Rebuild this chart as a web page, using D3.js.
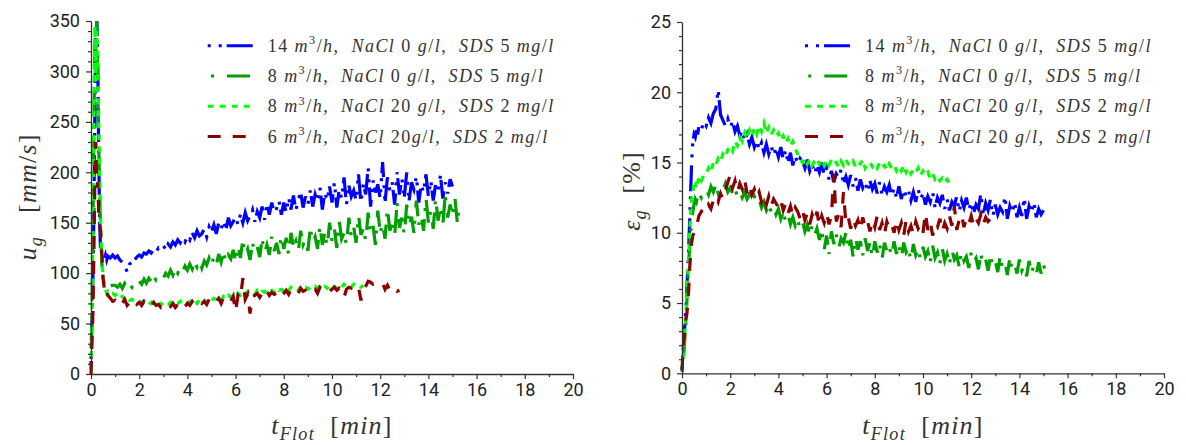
<!DOCTYPE html>
<html>
<head>
<meta charset="utf-8">
<script src="https://cdn.jsdelivr.net/npm/d3@7"></script>
<style>
  html, body { margin: 0; padding: 0; background: #fff; }
  svg { display: block; }
</style>
</head>
<body>
<svg id="chart" width="1186" height="445"></svg>
<script>
// Sampling times of the flotation runs [min]
const time = [0,0.04,0.08,0.12,0.16,0.2,0.24,0.28,0.32,0.36,0.4,0.45,0.5,0.55,0.6,0.65,0.7,0.8,0.9,
  1,1.1,1.2,1.3,1.4,1.5,1.6,1.7,1.8,1.9,
  2,2.1,2.2,2.3,2.4,2.5,2.6,2.7,2.8,2.9,
  3,3.1,3.2,3.3,3.4,3.5,3.6,3.7,3.8,3.9,
  4,4.1,4.2,4.3,4.4,4.5,4.6,4.7,4.8,4.9,
  5,5.1,5.2,5.3,5.4,5.5,5.6,5.7,5.8,5.9,
  6,6.1,6.2,6.3,6.4,6.5,6.6,6.7,6.8,6.9,
  7,7.1,7.2,7.3,7.4,7.5,7.6,7.7,7.8,7.9,
  8,8.1,8.2,8.3,8.4,8.5,8.6,8.7,8.8,8.9,
  9,9.1,9.2,9.3,9.4,9.5,9.6,9.7,9.8,9.9,
  10,10.1,10.2,10.3,10.4,10.5,10.6,10.7,10.8,10.9,
  11,11.1,11.2,11.3,11.4,11.5,11.6,11.7,11.8,11.9,
  12,12.1,12.2,12.3,12.4,12.5,12.6,12.7,12.8,12.9,
  13,13.1,13.2,13.3,13.4,13.5,13.6,13.7,13.8,13.9,
  14,14.1,14.2,14.3,14.4,14.5,14.6,14.7,14.8,14.9,
  15,15.1,15.2,15.3,15.4];

// Gas velocity u_g [mm/s]
const ugRun14 = [15,55,95,160,260,340,355,310,220,150,120,116,119,114,118,113,117,115,118,
  115,117,113,111,108,101,109,111,113,116,
  118,116,120,119,122,120,124,121,125,123,
  127,124,129,126,131,128,133,130,135,131,
  137,133,140,135,142,137,139,144,136,146,
  141,148,139,150,144,152,143,155,147,151,
  156,148,158,150,160,152,157,163,151,161,
  155,166,153,168,158,170,160,164,172,158,
  170,160,175,163,177,162,173,180,165,176,
  168,182,166,178,171,185,163,180,172,186,
  170,190,165,183,174,195,168,187,176,182,
  172,198,170,188,178,205,166,192,180,188,
  174,210,170,195,182,190,168,200,178,194,
  175,200,172,190,183,196,170,188,180,198,
  176,192,172,188,182,197,174,190,179,193,
  186];
const ugRun8 = [10,60,140,240,330,300,350,280,230,180,140,110,95,92,90,88,89,87,88,
  88,86,89,85,90,87,89,86,91,88,
  92,89,94,90,95,92,97,93,96,99,
  95,100,97,103,98,104,100,106,101,107,
  103,109,104,111,106,113,105,112,108,115,
  109,116,108,119,111,121,110,118,114,123,
  112,128,115,133,118,124,113,130,120,126,
  116,134,120,128,118,136,122,130,119,138,
  124,135,118,140,126,132,121,142,128,134,
  122,145,130,136,124,148,128,140,126,150,
  132,144,125,152,134,140,128,155,136,146,
  130,158,138,144,132,160,140,148,128,162,
  140,150,134,165,142,152,136,170,145,155,
  138,168,146,156,140,172,148,158,142,175,
  150,162,144,175,152,165,148,178,155,168,
  158,175,150,170];
const ugRun8Salt = [5,50,150,260,345,290,340,300,250,200,150,110,98,90,84,80,82,79,80,
  78,80,76,77,74,76,73,74,72,73,
  71,72,70,71,69,71,68,70,69,70,
  68,70,69,71,68,70,70,72,69,71,
  70,72,71,73,70,74,72,73,71,75,
  73,75,74,76,73,77,75,78,76,79,
  77,80,78,81,79,82,80,81,79,83,
  80,82,81,84,82,83,81,85,83,84,
  82,85,83,86,84,85,83,87,85,86,
  84,86,85,87,85,88,86,87,85,88,
  86,87,85,88,86,89,87,88,86,89,
  87,88,86,88];
const ugRun6Salt = [0,30,60,120,190,230,185,190,160,150,140,120,95,85,88,82,78,75,72,
  73,69,72,70,74,68,71,70,73,69,
  71,68,72,69,70,67,71,68,69,66,
  68,66,69,67,70,66,69,68,71,67,
  70,68,72,69,71,73,70,72,69,74,
  71,74,72,75,70,76,73,74,72,77,
  62,78,75,95,74,79,60,77,78,80,
  76,80,77,82,78,81,79,80,83,78,
  80,83,79,84,81,82,80,85,82,83,
  81,85,83,84,80,86,84,83,85,82,
  84,86,83,85,82,76,84,86,85,87,
  84,86,73,83,87,92,91,89,90,88,
  89,90,84,88,83,82,85,82,83];

// Gas holdup eps_g [%]
const egRun14 = [0.3,1.5,2.5,3.5,4.5,6,7.5,9,11,13,15,16.5,17,16.8,17.3,17,17.6,17.3,17.9,
  17.6,18.2,17.8,18.5,18.8,20.2,18.4,18.0,17.6,18.1,
  17.5,17.9,17.2,17.6,16.9,17.3,16.5,17.0,16.3,16.8,
  16.1,16.6,15.9,16.4,15.7,16.3,15.6,16.2,15.5,16.0,
  15.4,16.1,15.2,15.9,15.0,15.7,14.8,15.5,14.9,15.3,
  15.1,14.6,15.2,14.4,14.9,14.2,14.8,14.3,15.0,14.1,
  14.6,13.8,14.4,13.6,14.2,13.9,14.5,13.5,14.0,13.4,
  14.1,13.3,13.9,13.0,13.8,13.2,13.6,12.9,13.7,13.1,
  13.5,12.8,13.6,12.7,13.3,12.9,13.4,12.6,13.2,12.5,
  13.3,12.4,13.1,12.6,13.0,12.3,12.9,12.2,13.1,12.4,
  12.8,12.0,12.6,12.2,12.9,11.8,12.5,12.1,12.7,11.7,
  12.4,11.6,12.2,11.9,12.6,11.5,12.3,11.8,12.5,11.6,
  12.2,11.4,12.0,11.7,12.8,11.3,12.1,11.6,12.4,11.2,
  12.0,11.3,11.8,11.5,12.6,11.0,11.9,11.4,12.2,11.1,
  11.8,11.2,12.5,11.0,11.9,11.4,12.2,11.1,11.7,11.3,
  11.6];
const egRun8 = [0.1,0.5,1.5,2.5,3.5,5,6.5,8,9,10,11,11.5,12,12.4,12.2,12.6,12.8,12.5,13,
  13.1,12.7,13.3,12.9,13.4,12.8,13.2,13.0,13.5,12.9,
  13.2,12.8,13.1,12.6,13.0,12.5,12.9,12.4,12.7,12.3,
  12.6,12.1,12.4,11.8,12.2,11.6,12.0,11.5,11.9,11.3,
  11.7,11.0,11.5,10.8,11.3,10.6,11.1,10.5,10.9,10.3,
  10.8,10.1,10.6,9.9,10.5,9.8,10.3,9.5,10.2,8.8,
  9.8,8.5,10.1,9.2,9.9,8.9,9.6,9.3,10.0,8.7,
  9.5,8.3,9.7,8.8,9.4,8.4,9.6,8.7,9.3,8.2,
  9.4,8.6,9.2,8.1,9.3,8.7,9.0,8.3,9.4,8.5,
  9.1,8.2,9.3,8.6,8.9,8.0,9.2,8.4,8.8,8.1,
  9.0,8.3,8.7,7.9,9.1,8.2,8.6,7.8,8.9,8.0,
  8.5,7.8,8.8,8.1,8.4,7.6,8.7,8.0,8.3,7.5,
  8.6,7.9,8.2,7.4,8.5,7.7,8.1,7.3,8.4,7.6,
  8.0,7.2,8.3,7.5,7.9,7.0,8.2,7.4,7.8,7.1,
  8.1,7.3,7.7,6.9,8.0,7.2,7.6,7.0,7.9,7.1,
  7.7,7.2,7.5];
const egRun8Salt = [0.2,1,2,3,4,5.5,7,8.5,10,11.5,12.5,13,13.5,13.2,13.8,13.5,14,13.7,14.1,
  14.2,14.6,14.3,15.0,14.8,15.3,15.1,15.6,15.4,15.9,
  16.1,15.8,16.5,16.2,16.8,16.5,17.1,16.7,17.3,16.9,
  17.4,17.0,17.6,17.2,17.8,17.1,17.5,17.0,17.3,16.9,
  17.1,16.6,16.9,16.4,16.7,16.2,16.5,16.0,15.6,15.2,
  15.0,15.3,14.9,15.2,14.8,15.1,15.3,14.9,15.2,14.8,
  15.1,14.8,15.2,14.9,15.0,14.7,15.1,14.8,15.2,14.9,
  14.8,15.1,14.7,15.0,14.9,15.2,14.6,14.9,15.0,14.7,
  14.9,14.6,15.0,14.7,14.8,14.5,14.9,14.6,14.8,14.4,
  14.7,14.4,14.8,14.3,14.6,14.2,14.5,14.3,14.6,14.1,
  14.4,14.1,14.3,13.9,14.2,13.8,14.0,13.7,13.9,13.6,
  13.8,13.5];
const egRun6Salt = [0.2,1.5,2.5,3.2,3.8,4.2,5,6,7.5,8.5,9.3,9.8,10,10.2,10.5,10.8,11.2,11.5,11.8,
  11.6,12.0,11.7,12.3,12.6,12.2,12.8,12.4,13.0,13.6,
  14.1,13.2,13.7,12.9,13.5,13.1,13.8,12.8,13.4,12.7,
  13.1,12.5,12.9,12.2,12.7,12.0,12.6,11.9,12.4,12.1,
  11.8,12.3,11.6,12.1,11.4,11.9,11.2,11.8,11.5,11.0,
  11.6,10.9,11.4,10.6,11.3,10.8,11.5,10.5,11.2,10.7,
  11.4,10.6,11.2,14.2,10.8,11.3,10.4,12.9,10.7,11.1,
  10.3,11.0,10.5,10.9,10.2,11.1,10.4,10.8,10.1,10.9,
  10.4,11.2,10.2,10.7,9.9,10.8,10.3,10.6,10.0,10.9,
  10.2,10.7,9.8,10.9,10.1,10.5,9.9,10.8,10.3,10.6,
  10.0,11.4,10.2,10.8,9.8,10.6,10.4,11.0,10.1,10.7,
  10.3,11.2,10.5,11.9,10.2,10.9,11.3,10.4,11.0,10.6,
  11.2,10.5,11.0,10.7,11.3,10.6,11.1,10.8,11.0];

// Legend labels (letters are set in math italic, ^n is a superscript)
const labelsUg = ["14 m^3/h,  NaCl 0 g/l,  SDS 5 mg/l", "8 m^3/h,  NaCl 0 g/l,  SDS 5 mg/l",
  "8 m^3/h,  NaCl 20 g/l,  SDS 2 mg/l", "6 m^3/h,  NaCl 20g/l,  SDS 2 mg/l"];
const labelsEg = ["14 m^3/h,  NaCl 0 g/l,  SDS 5 mg/l", "8 m^3/h,  NaCl 0 g/l,  SDS 5 mg/l",
  "8 m^3/h,  NaCl 20 g/l,  SDS 2 mg/l", "6 m^3/h,  NaCl 20 g/l,  SDS 2 mg/l"];

// Axis ticks
const xTicks = [0, 2, 4, 6, 8, 10, 12, 14, 16, 18, 20];
const ugTicks = [0, 50, 100, 150, 200, 250, 300, 350];
const egTicks = [0, 5, 10, 15, 20, 25];

// Series styling
const colors = ["#0000ff", "#00a000", "#00ff00", "#8b0000"];
const dashes = ["3,8,3,5,26,8", "3,13,23,8", "6,6", "13,12"];
const legendDashOffset = [0, 43.7, 0, 0];

const svg = d3.select("#chart");
const serif = "'Liberation Serif', 'Times New Roman', serif";
const textColor = "#333";

function rich(textSel, parts, size) {
  let shift = 0;
  parts.forEach(([s, kind]) => {
    const ts = textSel.append("tspan").text(s);
    let target = 0;
    if (kind === "sub") { ts.attr("font-size", size * 0.7).attr("font-style", "italic"); target = size * 0.22; }
    else if (kind === "sup") { ts.attr("font-size", size * 0.68); target = -size * 0.42; }
    else if (kind === "i") ts.attr("font-style", "italic");
    if (target !== shift) { ts.attr("dy", target - shift); shift = target; }
  });
}

function parseLabel(str) {
  const parts = [];
  str.replace(/\^(\d+)|([A-Za-z]+)|([^A-Za-z^]+)/g, (m, sup, word, other) => {
    if (sup) parts.push([sup, "sup"]);
    else if (word) parts.push([word, "i"]);
    else parts.push([other, "r"]);
    return m;
  });
  return parts;
}

const panels = [
  { id: "ug", x0: 91, x1: 573, yTop: 21, yBot: 374, yMax: 350, yTicks: ugTicks, yMinor: 10,
    series: [ugRun14, ugRun8, ugRun8Salt, ugRun6Salt], labels: labelsUg, legendX: 207.7,
    yTitle: [["u", "i"], ["g", "sub"], ["   [", "r"], ["mm", "i"], ["/", "r"], ["s", "i"], ["]", "r"]],
    yTitleX: 36, yTitleY: 197 },
  { id: "eg", x0: 682, x1: 1164, yTop: 22, yBot: 373.3, yMax: 25, yTicks: egTicks, yMinor: 1,
    series: [egRun14, egRun8, egRun8Salt, egRun6Salt], labels: labelsEg, legendX: 805,
    yTitle: [["\u03b5", "i"], ["g", "sub"], ["  [%]", "r"]],
    yTitleX: 640, yTitleY: 191 }
];

const legendRows = [45.7, 75.9, 106.3, 136.6];
const legendWidth = 287;   // width of the longest legend entry
const legendSize = 18;

panels.forEach(p => {
  const x = d3.scaleLinear().domain([0, 20]).range([p.x0, p.x1]);
  const y = d3.scaleLinear().domain([0, p.yMax]).range([p.yBot, p.yTop]);
  const g = svg.append("g");

  // clip region of the plot area
  g.append("clipPath").attr("id", "clip-" + p.id)
    .append("rect").attr("x", p.x0 - 2).attr("y", p.yTop).attr("width", p.x1 - p.x0 + 4).attr("height", p.yBot - p.yTop + 1);

  // data
  const plot = g.append("g").attr("clip-path", `url(#clip-${p.id})`);
  p.series.forEach((vals, k) => {
    const line = d3.line().x((d, i) => x(time[i])).y(d => y(d));
    plot.append("path").datum(vals)
      .attr("d", line)
      .attr("fill", "none")
      .attr("stroke", colors[k])
      .attr("stroke-width", 3.2)
      .attr("stroke-dasharray", dashes[k]);
  });

  // axes
  const axisColor = "#333";
  const xMinor = d3.range(1, 20, 2);
  const yMinor = d3.range(0, p.yMax + 0.001, p.yMinor).filter(v => !p.yTicks.includes(Math.round(v * 1000) / 1000));

  const xa = g.append("g").attr("transform", `translate(0,${p.yBot})`);
  xa.call(d3.axisBottom(x).tickValues(xTicks).tickSize(5).tickSizeOuter(0).tickPadding(4).tickFormat(d3.format("d")));
  const xm = g.append("g").attr("transform", `translate(0,${p.yBot})`);
  xm.call(d3.axisBottom(x).tickValues(xMinor).tickSize(3).tickFormat(""));
  xm.select(".domain").remove();

  const ya = g.append("g").attr("transform", `translate(${p.x0},0)`);
  ya.call(d3.axisLeft(y).tickValues(p.yTicks).tickSize(5).tickSizeOuter(0).tickPadding(6).tickFormat(d3.format("d")));
  const ym = g.append("g").attr("transform", `translate(${p.x0},0)`);
  ym.call(d3.axisLeft(y).tickValues(yMinor).tickSize(3).tickFormat(""));
  ym.select(".domain").remove();

  g.selectAll(".domain").attr("stroke", axisColor).attr("stroke-width", 1.3);
  g.selectAll(".tick line").attr("stroke", axisColor).attr("stroke-width", 1.2);
  g.selectAll(".tick text").attr("font-family", "Roboto, 'Noto Sans', sans-serif")
    .attr("font-size", 18).attr("fill", "#222");

  // axis titles
  const xt = g.append("text")
    .attr("x", (p.x0 + p.x1) / 2).attr("y", 434)
    .attr("text-anchor", "middle").attr("font-family", serif).attr("font-size", 26)
    .attr("letter-spacing", 1.2)
    .attr("fill", textColor).style("white-space", "pre");
  rich(xt, [["t", "i"], ["Flot", "sub"], ["  [", "r"], ["min", "i"], ["]", "r"]], 26);

  const yt = g.append("text")
    .attr("transform", `translate(${p.yTitleX},${p.yTitleY}) rotate(-90)`)
    .attr("text-anchor", "middle").attr("font-family", serif).attr("font-size", 26)
    .attr("letter-spacing", 1.2)
    .attr("fill", textColor).style("white-space", "pre");
  rich(yt, p.yTitle, 26);

  // legend
  const lg = g.append("g");
  const texts = [];
  p.labels.forEach((lab, k) => {
    const ry = legendRows[k];
    lg.append("line")
      .attr("x1", p.legendX).attr("x2", p.legendX + 45)
      .attr("y1", ry).attr("y2", ry)
      .attr("stroke", colors[k]).attr("stroke-width", 3)
      .attr("stroke-dasharray", dashes[k])
      .attr("stroke-dashoffset", legendDashOffset[k]);
    const t = lg.append("text")
      .attr("x", p.legendX + 60).attr("y", ry + 6)
      .attr("font-family", serif).attr("font-size", legendSize).attr("fill", textColor)
      .style("white-space", "pre");
    rich(t, parseLabel(lab), legendSize);
    texts.push(t);
  });
  // widen the math-style spacing so the first entry spans the legend width
  const first = texts[0].node();
  const natural = first.getComputedTextLength();
  const nChars = first.textContent.length;
  const spacing = Math.max(0, (legendWidth - natural) / nChars);
  texts.forEach(t => t.attr("letter-spacing", spacing));
});
</script>
</body>
</html>
